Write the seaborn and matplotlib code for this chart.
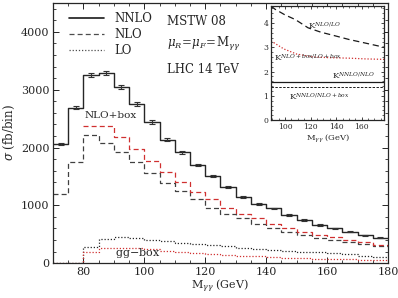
import matplotlib
matplotlib.use("Agg")
import matplotlib.pyplot as plt
import numpy as np
import seaborn as sns
from matplotlib.lines import Line2D
from matplotlib.ticker import MultipleLocator

# bin edges (GeV) and per-bin cross sections (fb/bin)
edges = list(range(70, 185, 5))
nnlo = [2060, 2690, 3258, 3288, 3045, 2750, 2440, 2135, 1918, 1700, 1510, 1322,
        1150, 1025, 947, 830, 745, 659, 600, 543, 485, 439]
nnlo_err = [25, 30, 35, 35, 35, 30, 30, 28, 25, 22, 20, 18,
            18, 18, 15, 12, 12, 10, 10, 10, 10, 8]
nlo = [1190, 1755, 2218, 2085, 1930, 1745, 1565, 1392, 1250, 1103, 959, 849,
       774, 670, 600, 543, 490, 440, 400, 360, 330, 305]
nlo_box_edges = list(range(80, 185, 5))
nlo_box = [2380, 2370, 2180, 1970, 1770, 1583, 1410, 1236, 1103, 959, 849, 774,
           670, 601, 545, 490, 445, 405, 365, 320]
lo = [0, 0, 285, 420, 445, 440, 405, 375, 345, 330, 312, 290,
      265, 245, 230, 215, 200, 185, 168, 150, 130, 110]
gg_box = [0, 0, 196, 262, 262, 258, 237, 213, 190, 168, 150, 138,
          125, 115, 105, 95, 88, 80, 72, 66, 60, 55]

# K-factors for the inset
k_mass = [89, 92, 100, 108, 118, 128, 137, 150, 163, 177.5]
k_nlo_lo = [4.7, 4.57, 4.33, 4.14, 3.8, 3.62, 3.5, 3.32, 3.17, 3.0]
k_box_mass = [89, 99, 109, 122, 135, 150, 163, 177.5]
k_nlobox_lobox = [3.26, 2.93, 2.72, 2.6, 2.57, 2.55, 2.52, 2.5]
k_nnlo_nlo = 1.57
k_nnlo_nlobox = 1.38

RED = "#d03030"


def stairs(ax, x_edges, values, **kw):
    """Draw a step histogram through seaborn's lineplot."""
    y = list(values) + [values[-1]]
    sns.lineplot(x=x_edges, y=y, ax=ax, drawstyle="steps-post",
                 estimator=None, sort=False, **kw)


sns.set_theme(style="ticks")
plt.rcParams.update({
    "font.family": ["DejaVu Serif"],
    "mathtext.fontset": "dejavuserif",
    "xtick.direction": "in",
    "ytick.direction": "in",
    "xtick.top": True,
    "ytick.right": True,
    "axes.linewidth": 0.9,
})

fig = plt.figure(figsize=(3.98, 2.98), dpi=100)
ax = fig.add_axes([0.133, 0.117, 0.842, 0.873])

stairs(ax, edges, nnlo, color="0.15", lw=1.0)
centers = np.array(edges[:-1]) + 2.5
ax.errorbar(centers, nnlo, yerr=nnlo_err, fmt="none", ecolor="0.2",
            elinewidth=0.8, capsize=2, capthick=0.8)
stairs(ax, edges, nlo, color="0.25", lw=0.9, linestyle=(0, (4, 2.5)))
stairs(ax, nlo_box_edges, nlo_box, color=RED, lw=0.9, linestyle=(0, (4, 2.5)))
stairs(ax, edges, lo, color="0.15", lw=0.9, linestyle=(0, (1, 1.5)))
stairs(ax, edges, gg_box, color=RED, lw=0.9, linestyle=(0, (1, 1.5)))

ax.set_xlim(70, 180)
ax.set_ylim(0, 4500)
ax.xaxis.set_major_locator(MultipleLocator(20))
ax.xaxis.set_minor_locator(MultipleLocator(5))
ax.yaxis.set_major_locator(MultipleLocator(1000))
ax.yaxis.set_minor_locator(MultipleLocator(200))
ax.tick_params(which="major", length=4, width=0.7, labelsize=8, pad=2.5)
ax.tick_params(which="minor", length=2, width=0.6)
ax.set_xlabel(r"M$_{\gamma\gamma}$ (GeV)", fontsize=8, labelpad=1)
ax.set_ylabel(r"$\sigma$ (fb/bin)", fontsize=8.5, labelpad=3)

handles = [
    Line2D([], [], color="0.1", lw=1.2),
    Line2D([], [], color="0.3", lw=0.9, linestyle=(0, (4, 2.5))),
    Line2D([], [], color="0.3", lw=0.9, linestyle=(0, (1, 1.5))),
]
ax.legend(handles, ["NNLO", "NLO", "LO"], loc="upper left", frameon=False,
          fontsize=8.5, handlelength=3.0, labelspacing=0.25,
          bbox_to_anchor=(0.02, 1.0), borderaxespad=0.4)

ax.text(0.34, 0.955, "MSTW 08", transform=ax.transAxes, fontsize=8.5, va="top")
ax.text(0.34, 0.875, r"$\mu_R\!=\!\mu_F\!=\!$M$_{\gamma\gamma}$",
        transform=ax.transAxes, fontsize=8.5, va="top")
ax.text(0.34, 0.77, "LHC 14 TeV", transform=ax.transAxes, fontsize=8.5, va="top")
ax.text(80.5, 2480, "NLO+box", fontsize=7.5, va="bottom")
ax.text(90.5, 60, "gg$-$box", fontsize=8, va="bottom")

# inset with K-factors
ins = fig.add_axes([0.681, 0.597, 0.284, 0.383])
sns.lineplot(x=k_mass, y=k_nlo_lo, ax=ins, color="0.1", lw=0.9,
             linestyle=(0, (5, 3)), estimator=None, sort=False)
sns.lineplot(x=k_box_mass, y=k_nlobox_lobox, ax=ins, color=RED, lw=0.9,
             linestyle=(0, (1, 1.5)), estimator=None, sort=False)
ins.axhline(k_nnlo_nlo, color="0.1", lw=0.9)
ins.axhline(k_nnlo_nlobox, color="0.1", lw=0.7, linestyle=(0, (2.5, 1.5)))
ins.set_xlim(89, 177.5)
ins.set_ylim(0, 4.7)
ins.xaxis.set_major_locator(MultipleLocator(20))
ins.xaxis.set_minor_locator(MultipleLocator(5))
ins.yaxis.set_major_locator(MultipleLocator(1))
ins.yaxis.set_minor_locator(MultipleLocator(0.2))
ins.tick_params(which="major", length=2.5, width=0.6, labelsize=5.5, pad=2)
ins.tick_params(which="minor", length=1.2, width=0.5)
ins.set_xlabel(r"M$_{\gamma\gamma}$ (GeV)", fontsize=6, labelpad=1)
ins.text(118, 3.75, r"K$^{NLO/LO}$", fontsize=6)
ins.text(91, 2.45, r"K$^{NLO+box/LO+box}$", fontsize=6)
ins.text(137, 1.67, r"K$^{NNLO/NLO}$", fontsize=6)
ins.text(103, 0.82, r"K$^{NNLO/NLO+box}$", fontsize=6)

fig.savefig("out.png", dpi=100, facecolor="white")
